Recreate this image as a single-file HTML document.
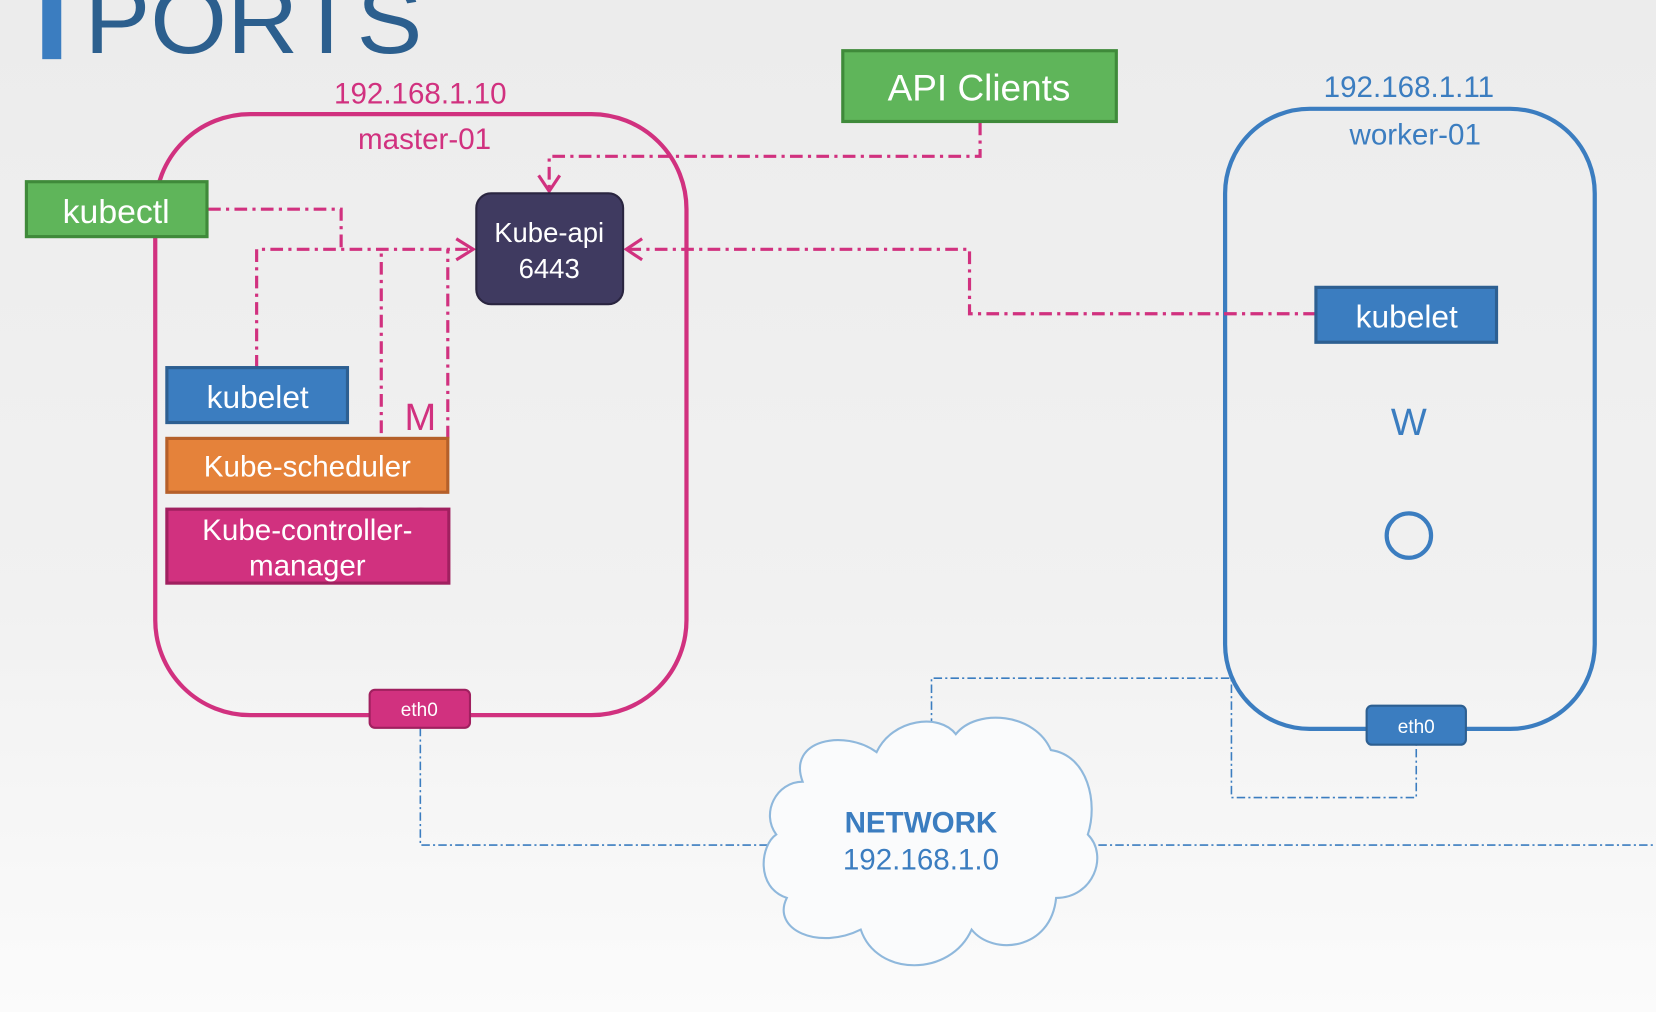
<!DOCTYPE html>
<html><head><meta charset="utf-8"><style>
html,body{margin:0;padding:0;width:1656px;height:1012px;overflow:hidden;}
svg{display:block;}
text{font-family:"Liberation Sans",sans-serif;}
</style></head><body>
<svg width="1656" height="1012" viewBox="0 0 1568 958" preserveAspectRatio="none" xmlns="http://www.w3.org/2000/svg">
<defs>
<linearGradient id="bg" x1="0" y1="0" x2="0" y2="1">
<stop offset="0" stop-color="#ececec"/><stop offset="0.6" stop-color="#f1f1f1"/><stop offset="1" stop-color="#fbfbfb"/>
</linearGradient>
</defs>
<rect width="1568" height="958" fill="url(#bg)"/>
<!-- title -->
<rect x="40" y="0" width="18" height="56" fill="#3b7dc0"/>
<text x="80" y="50" font-size="90" fill="#2c5f8e" textLength="320" lengthAdjust="spacingAndGlyphs">PORTS</text>

<!-- master box -->
<rect x="147" y="108" width="503" height="569" rx="90" fill="none" stroke="#d1317f" stroke-width="4"/>
<text x="398" y="98" font-size="28" fill="#d1317f" text-anchor="middle">192.168.1.10</text>
<text x="402" y="141" font-size="28" fill="#d1317f" text-anchor="middle">master-01</text>

<!-- worker box -->
<rect x="1160" y="103" width="350" height="587" rx="80" fill="none" stroke="#3b7dc0" stroke-width="4"/>
<text x="1334" y="92" font-size="28" fill="#3b7dc0" text-anchor="middle">192.168.1.11</text>
<text x="1340" y="137" font-size="28" fill="#3b7dc0" text-anchor="middle">worker-01</text>
<text x="1334" y="412" font-size="36" fill="#3b7dc0" text-anchor="middle">W</text>
<circle cx="1334" cy="507" r="21" fill="none" stroke="#3b7dc0" stroke-width="4"/>

<!-- blue network lines -->
<g fill="none" stroke="#3b7dc0" stroke-width="1.5" stroke-dasharray="8,3,2,3">
<polyline points="398,689 398,800 727,800"/>
<polyline points="1040,800 1568,800"/>
<polyline points="882,688 882,642 1166,642 1166,755 1341,755 1341,705"/>
</g>

<!-- cloud -->
<path d="M760,740 C745,700 800,690 830,712 C845,680 890,675 905,695 C925,670 980,675 995,710 C1030,715 1040,760 1030,790 C1050,810 1035,850 1000,850 C995,900 940,905 920,880 C900,925 830,925 815,880 C775,900 730,880 745,850 C715,840 720,800 735,790 C720,770 735,740 760,740 Z" fill="#fafbfc" stroke="#8fb8dc" stroke-width="2"/>
<text x="872" y="788" font-size="28" font-weight="bold" fill="#3b7dc0" text-anchor="middle">NETWORK</text>
<text x="872" y="823" font-size="28" fill="#3b7dc0" text-anchor="middle">192.168.1.0</text>

<!-- pink connectors -->
<g fill="none" stroke="#d1317f" stroke-width="3" stroke-dasharray="12,5,3,5">
<polyline points="928,116 928,148 520,148 520,180"/>
<polyline points="197,198 323,198 323,236"/>
<polyline points="243,348 243,236 446,236"/>
<polyline points="361,410 361,236"/>
<polyline points="424,415 424,236"/>
<polyline points="1246,297 918,297 918,236 594,236"/>
</g>
<g fill="none" stroke="#d1317f" stroke-width="3">
<polyline points="510,166 520,181 530,166"/>
<polyline points="432,226 448,236 432,246"/>
<polyline points="608,226 593,236 608,246"/>
</g>
<text x="398" y="407" font-size="36" fill="#d1317f" text-anchor="middle">M</text>
<path d="M385,487 Q398,477 411,487" fill="none" stroke="#d1317f" stroke-width="3"/>

<!-- API Clients -->
<rect x="798" y="48" width="259" height="67" fill="#5fb55a" stroke="#3f8a3a" stroke-width="3"/>
<text x="927" y="95" font-size="35" fill="#fff" text-anchor="middle">API Clients</text>

<!-- kubectl -->
<rect x="25" y="172" width="171" height="52" fill="#5fb55a" stroke="#3f8a3a" stroke-width="3"/>
<text x="110" y="211" font-size="32" fill="#fff" text-anchor="middle">kubectl</text>

<!-- Kube-api -->
<rect x="451" y="183" width="139" height="105" rx="14" fill="#3f3a60" stroke="#2a2540" stroke-width="2"/>
<text x="520" y="229" font-size="26" fill="#fff" text-anchor="middle">Kube-api</text>
<text x="520" y="263" font-size="26" fill="#fff" text-anchor="middle">6443</text>

<!-- master components -->
<rect x="158" y="348" width="171" height="52" fill="#3b7dc0" stroke="#2d5f91" stroke-width="3"/>
<text x="244" y="386" font-size="30" fill="#fff" text-anchor="middle">kubelet</text>
<rect x="158" y="415" width="266" height="51" fill="#e5823a" stroke="#b5602a" stroke-width="3"/>
<text x="291" y="451" font-size="28" fill="#fff" text-anchor="middle">Kube-scheduler</text>
<rect x="158" y="482" width="267" height="70" fill="#d1317f" stroke="#a0205f" stroke-width="3"/>
<text x="291" y="511" font-size="28" fill="#fff" text-anchor="middle">Kube-controller-</text>
<text x="291" y="545" font-size="28" fill="#fff" text-anchor="middle">manager</text>

<!-- eth0 master -->
<rect x="350" y="653" width="95" height="36" rx="5" fill="#d1317f" stroke="#a0205f" stroke-width="2"/>
<text x="397" y="678" font-size="18" fill="#fff" text-anchor="middle">eth0</text>

<!-- worker kubelet -->
<rect x="1246" y="272" width="171" height="52" fill="#3b7dc0" stroke="#2d5f91" stroke-width="3"/>
<text x="1332" y="310" font-size="30" fill="#fff" text-anchor="middle">kubelet</text>

<!-- eth0 worker -->
<rect x="1294" y="668" width="94" height="37" rx="5" fill="#3b7dc0" stroke="#2d5f91" stroke-width="2"/>
<text x="1341" y="694" font-size="18" fill="#fff" text-anchor="middle">eth0</text>
</svg>
</body></html>
